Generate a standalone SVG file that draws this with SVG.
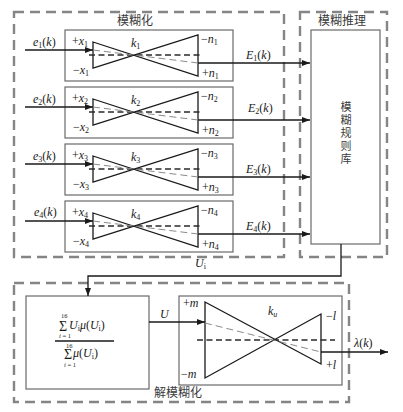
<svg xmlns="http://www.w3.org/2000/svg" width="403" height="412" viewBox="0 0 403 412">
<defs>
<style>
.grp{fill:none;stroke:#858585;stroke-width:2.4;stroke-dasharray:10 6}
.box{fill:#fff;stroke:#6a6a6a;stroke-width:1.2}
.tri{fill:none;stroke:#1a1a1a;stroke-width:1.3}
.blk{fill:none;stroke:#2a2a2a;stroke-width:1.4;stroke-dasharray:6 3.5}
.gry{fill:none;stroke:#8a8a8a;stroke-width:1;stroke-dasharray:7 4}
.ln{fill:none;stroke:#1a1a1a;stroke-width:1.3}
.t{font-family:"Liberation Serif","Times New Roman",serif;font-size:12px;fill:#1a1a1a}
.i{font-style:italic}
.s{font-size:8px}
.tiny{font-size:6.5px}
.sig{font-size:14px}
.cn{font-family:"Noto Sans CJK SC","Noto Sans",sans-serif;font-size:12px;fill:#3a3a3a}
</style>
<marker id="ah" viewBox="0 0 8 6" refX="8" refY="3" markerWidth="8" markerHeight="6" markerUnits="userSpaceOnUse" orient="auto">
<path d="M0,0 L8,3 L0,6 z" fill="#1a1a1a"/>
</marker>
<g id="bowtie">
<path class="tri" d="M93,42 L198,76 L198,35 L93,68 Z"/>
<path class="blk" d="M89,55 H203"/>
<path class="gry" d="M93,50 L198,63"/>
</g>
</defs>
<rect width="403" height="412" fill="#fff"/>

<g id="fuzzification-group">
<rect class="grp" x="14" y="12" width="270" height="245"/>
<text class="cn" x="135" y="25" text-anchor="middle">模糊化</text>
</g>
<g id="inference-group">
<rect class="grp" x="300" y="12" width="87" height="245"/>
<text class="cn" x="342" y="25" text-anchor="middle">模糊推理</text>
</g>
<g id="defuzzification-group">
<rect class="grp" x="14" y="283" width="335" height="119"/>
<text class="cn" x="178" y="397" text-anchor="middle">解模糊化</text>
</g>

<g id="fuzzifier1">
<rect class="box" x="65" y="30" width="168" height="51"/>
<use href="#bowtie"/>
<text class="t" x="72" y="45">+<tspan class="i">x</tspan><tspan class="s" dy="2">1</tspan></text>
<text class="t" x="73" y="74">−<tspan class="i">x</tspan><tspan class="s" dy="2">1</tspan></text>
<text class="t i" x="131" y="47">k<tspan class="s" dy="2" font-style="normal">1</tspan></text>
<text class="t" x="201" y="43">−<tspan class="i">n</tspan><tspan class="s" dy="2">1</tspan></text>
<text class="t" x="202" y="77">+<tspan class="i">n</tspan><tspan class="s" dy="2">1</tspan></text>
</g>
<g id="fuzzifier2" transform="translate(0,57)">
<rect class="box" x="65" y="30" width="168" height="51"/>
<use href="#bowtie"/>
<text class="t" x="72" y="45">+<tspan class="i">x</tspan><tspan class="s" dy="2">2</tspan></text>
<text class="t" x="73" y="74">−<tspan class="i">x</tspan><tspan class="s" dy="2">2</tspan></text>
<text class="t i" x="131" y="47">k<tspan class="s" dy="2" font-style="normal">2</tspan></text>
<text class="t" x="201" y="43">−<tspan class="i">n</tspan><tspan class="s" dy="2">2</tspan></text>
<text class="t" x="202" y="77">+<tspan class="i">n</tspan><tspan class="s" dy="2">2</tspan></text>
</g>
<g id="fuzzifier3" transform="translate(0,114)">
<rect class="box" x="65" y="30" width="168" height="51"/>
<use href="#bowtie"/>
<text class="t" x="72" y="45">+<tspan class="i">x</tspan><tspan class="s" dy="2">3</tspan></text>
<text class="t" x="73" y="74">−<tspan class="i">x</tspan><tspan class="s" dy="2">3</tspan></text>
<text class="t i" x="131" y="47">k<tspan class="s" dy="2" font-style="normal">3</tspan></text>
<text class="t" x="201" y="43">−<tspan class="i">n</tspan><tspan class="s" dy="2">3</tspan></text>
<text class="t" x="202" y="77">+<tspan class="i">n</tspan><tspan class="s" dy="2">3</tspan></text>
</g>
<g id="fuzzifier4" transform="translate(0,171)">
<rect class="box" x="65" y="30" width="168" height="51"/>
<use href="#bowtie"/>
<text class="t" x="72" y="45">+<tspan class="i">x</tspan><tspan class="s" dy="2">4</tspan></text>
<text class="t" x="73" y="74">−<tspan class="i">x</tspan><tspan class="s" dy="2">4</tspan></text>
<text class="t i" x="131" y="47">k<tspan class="s" dy="2" font-style="normal">4</tspan></text>
<text class="t" x="201" y="43">−<tspan class="i">n</tspan><tspan class="s" dy="2">4</tspan></text>
<text class="t" x="202" y="77">+<tspan class="i">n</tspan><tspan class="s" dy="2">4</tspan></text>
</g>

<g id="rulebase">
<rect class="box" x="311" y="30" width="69" height="214"/>
<text class="cn" text-anchor="middle" style="font-size:11px"><tspan x="346" y="111">模</tspan><tspan x="346" y="124">糊</tspan><tspan x="346" y="137">规</tspan><tspan x="346" y="150">则</tspan><tspan x="346" y="163">库</tspan></text>
</g>

<g id="centroid">
<rect class="box" x="26" y="296" width="123" height="93"/>
<text class="t tiny" x="61" y="318">16</text>
<text class="t sig" x="59" y="331">Σ</text>
<text class="t" x="69" y="329"><tspan class="i">U</tspan><tspan class="s" dy="2">i</tspan><tspan class="i" dy="-2">μ</tspan>(<tspan class="i">U</tspan><tspan class="s" dy="2">i</tspan><tspan dy="-2">)</tspan></text>
<text class="t tiny" x="59" y="338"><tspan class="i">i</tspan> = 1</text>
<line x1="55" y1="341" x2="114" y2="341" stroke="#1a1a1a" stroke-width="1.3"/>
<text class="t tiny" x="66" y="348">16</text>
<text class="t sig" x="64" y="359">Σ</text>
<text class="t" x="73" y="357"><tspan class="i">μ</tspan>(<tspan class="i">U</tspan><tspan class="s" dy="2">i</tspan><tspan dy="-2">)</tspan></text>
<text class="t tiny" x="64" y="367"><tspan class="i">i</tspan> = 1</text>
</g>

<g id="defuzzifier">
<rect class="box" x="179" y="296" width="163" height="89"/>
<path class="tri" d="M205,302 L321,364 L321,314 L205,378 Z"/>
<path class="blk" d="M197,340 H335"/>
<path class="gry" d="M205,323 L321,352"/>
<text class="t" x="183" y="307">+<tspan class="i">m</tspan></text>
<text class="t" x="181" y="378">−<tspan class="i">m</tspan></text>
<text class="t i" x="268" y="315">k<tspan class="s" dy="2">u</tspan></text>
<text class="t" x="326" y="320">−<tspan class="i">l</tspan></text>
<text class="t" x="326" y="369">+<tspan class="i">l</tspan></text>
</g>

<g id="connectors">
<path class="ln" marker-end="url(#ah)" d="M25,50 H93"/>
<path class="ln" marker-end="url(#ah)" d="M25,107 H93"/>
<path class="ln" marker-end="url(#ah)" d="M25,164 H93"/>
<path class="ln" marker-end="url(#ah)" d="M25,221 H93"/>
<path class="ln" marker-end="url(#ah)" d="M198,63 H310"/>
<path class="ln" marker-end="url(#ah)" d="M198,120 H310"/>
<path class="ln" marker-end="url(#ah)" d="M198,177 H310"/>
<path class="ln" marker-end="url(#ah)" d="M198,234 H310"/>
<path class="ln" marker-end="url(#ah)" d="M341,244 V276 H88 V296"/>
<path class="ln" marker-end="url(#ah)" d="M149,322 H205"/>
<path class="ln" marker-end="url(#ah)" d="M321,352 H388"/>
<text class="t" x="33" y="46"><tspan class="i">e</tspan><tspan class="s" dy="2">1</tspan><tspan dy="-2">(</tspan><tspan class="i">k</tspan>)</text>
<text class="t" x="33" y="103"><tspan class="i">e</tspan><tspan class="s" dy="2">2</tspan><tspan dy="-2">(</tspan><tspan class="i">k</tspan>)</text>
<text class="t" x="33" y="160"><tspan class="i">e</tspan><tspan class="s" dy="2">3</tspan><tspan dy="-2">(</tspan><tspan class="i">k</tspan>)</text>
<text class="t" x="34" y="216"><tspan class="i">e</tspan><tspan class="s" dy="2">4</tspan><tspan dy="-2">(</tspan><tspan class="i">k</tspan>)</text>
<text class="t" x="246" y="59"><tspan class="i">E</tspan><tspan class="s" dy="2">1</tspan><tspan dy="-2">(</tspan><tspan class="i">k</tspan>)</text>
<text class="t" x="248" y="112"><tspan class="i">E</tspan><tspan class="s" dy="2">2</tspan><tspan dy="-2">(</tspan><tspan class="i">k</tspan>)</text>
<text class="t" x="246" y="173"><tspan class="i">E</tspan><tspan class="s" dy="2">3</tspan><tspan dy="-2">(</tspan><tspan class="i">k</tspan>)</text>
<text class="t" x="246" y="230"><tspan class="i">E</tspan><tspan class="s" dy="2">4</tspan><tspan dy="-2">(</tspan><tspan class="i">k</tspan>)</text>
<text class="t" x="195" y="267"><tspan class="i">U</tspan><tspan class="s" dy="2">i</tspan></text>
<text class="t i" x="160" y="318">U</text>
<text class="t" x="354" y="347"><tspan class="i">λ</tspan>(<tspan class="i">k</tspan>)</text>
</g>
</svg>
